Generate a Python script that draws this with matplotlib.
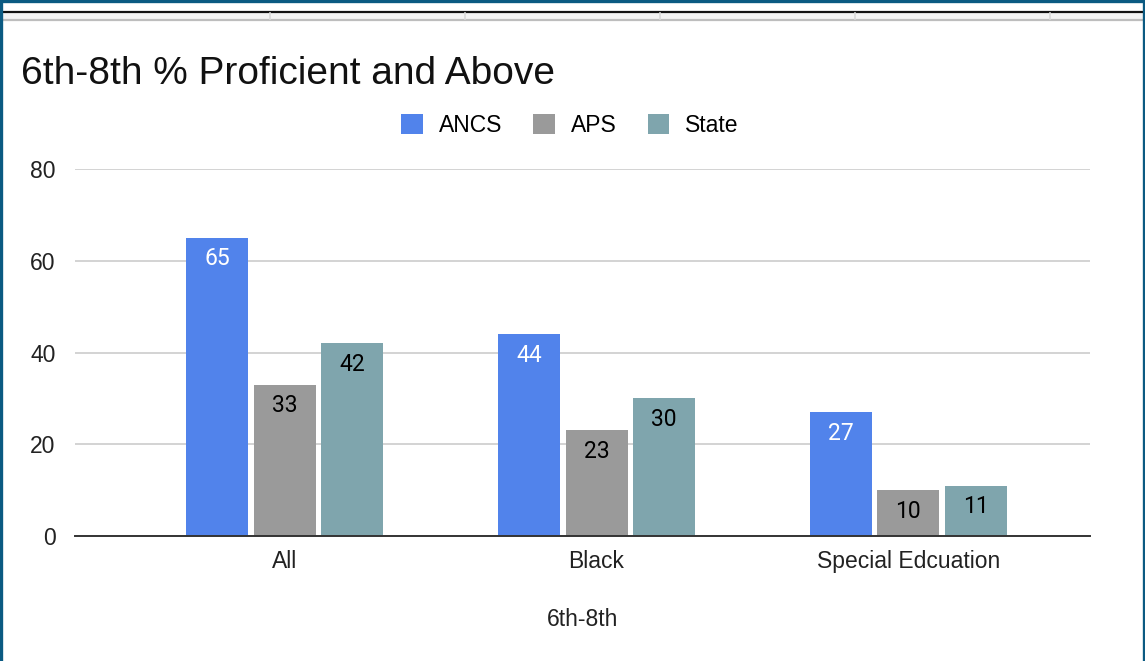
import numpy as np
import matplotlib
matplotlib.use('Agg')
import matplotlib.pyplot as plt
from matplotlib.patches import Rectangle
from matplotlib.lines import Line2D

plt.rcParams['font.family'] = ['Liberation Sans', 'DejaVu Sans']

# Data
categories = ['All', 'Black', 'Special Edcuation']
series = ['ANCS', 'APS', 'State']
ancs = [65, 44, 27]
aps = [33, 23, 10]
state = [42, 30, 11]
yticks = [0, 20, 40, 60, 80]

colors = ['#5183eb', '#9a9a9a', '#7fa5ad']
label_colors = ['white', 'black', 'black']

W, H = 1145, 661
fig = plt.figure(figsize=(W / 100, H / 100), dpi=100)

# spreadsheet frame decoration
def fx(px):
    return px / W

def fy(py):
    return 1 - py / H

fig.patches.append(Rectangle((0, fy(20)), 1, fy(11) - fy(20), transform=fig.transFigure,
                             facecolor='#f3f3f3', edgecolor='none'))
fig.lines.append(Line2D([0, 1], [fy(11.5), fy(11.5)], transform=fig.transFigure, color='#111111', lw=1.6))
fig.lines.append(Line2D([0, 1], [fy(19.5), fy(19.5)], transform=fig.transFigure, color='#bdbdbd', lw=1.6))
for xs in [270, 465, 660, 855, 1050]:
    fig.lines.append(Line2D([fx(xs), fx(xs)], [fy(19), fy(12.5)], transform=fig.transFigure,
                            color='#d9d9d9', lw=1.2))
# blue border
for seg in [([fx(1), fx(1)], [0, 1]), ([fx(1143.5), fx(1143.5)], [0, 1]), ([0, 1], [fy(1), fy(1)])]:
    fig.lines.append(Line2D(seg[0], seg[1], transform=fig.transFigure, color='#0b5a82', lw=2.4))

ax = fig.add_axes([fx(75), fy(536), fx(1090) - fx(75), fy(169) - fy(536)])

x = np.arange(len(categories))
width = 0.199
offset = 0.216

all_vals = [ancs, aps, state]
bars = []
for i, vals in enumerate(all_vals):
    b = ax.bar(x + (i - 1) * offset, vals, width, color=colors[i], label=series[i], zorder=3)
    bars.append(b)
    for rect, v in zip(b, vals):
        ax.annotate(str(v), (rect.get_x() + rect.get_width() / 2, v), xytext=(0, -21),
                    textcoords='offset pixels',
                    ha='center', va='center', fontsize=16.5, color=label_colors[i],
                    family=['Roboto', 'DejaVu Sans'], zorder=4)

ax.set_xlim(-0.673, 2.583)
ax.set_ylim(0, 80)
ax.set_yticks(yticks)
ax.set_xticks(x)
ax.set_xticklabels(categories)
ax.tick_params(axis='both', length=0, labelsize=16.5, colors='#222222')
ax.tick_params(axis='y', pad=14)
ax.tick_params(axis='x', pad=10)

ax.grid(axis='y', color='#cccccc', lw=1.2, zorder=0)
for s in ['top', 'right', 'left']:
    ax.spines[s].set_visible(False)
ax.spines['bottom'].set_color('#333333')
ax.spines['bottom'].set_linewidth(1.4)
ax.spines['bottom'].set_zorder(5)

ax.set_xlabel('6th-8th', fontsize=16.5, color='#222222', labelpad=25)

fig.text(fx(21), fy(74), '6th-8th % Proficient and Above', fontsize=28, va='center', ha='left', color='#111111')

fig.legend(handles=bars, labels=series, loc='center', bbox_to_anchor=(fx(570), fy(125)), ncol=3,
           frameon=False, fontsize=16.5, handlelength=0.95, handleheight=0.95,
           handletextpad=0.7, columnspacing=1.35)

fig.savefig('out.png', dpi=100)
